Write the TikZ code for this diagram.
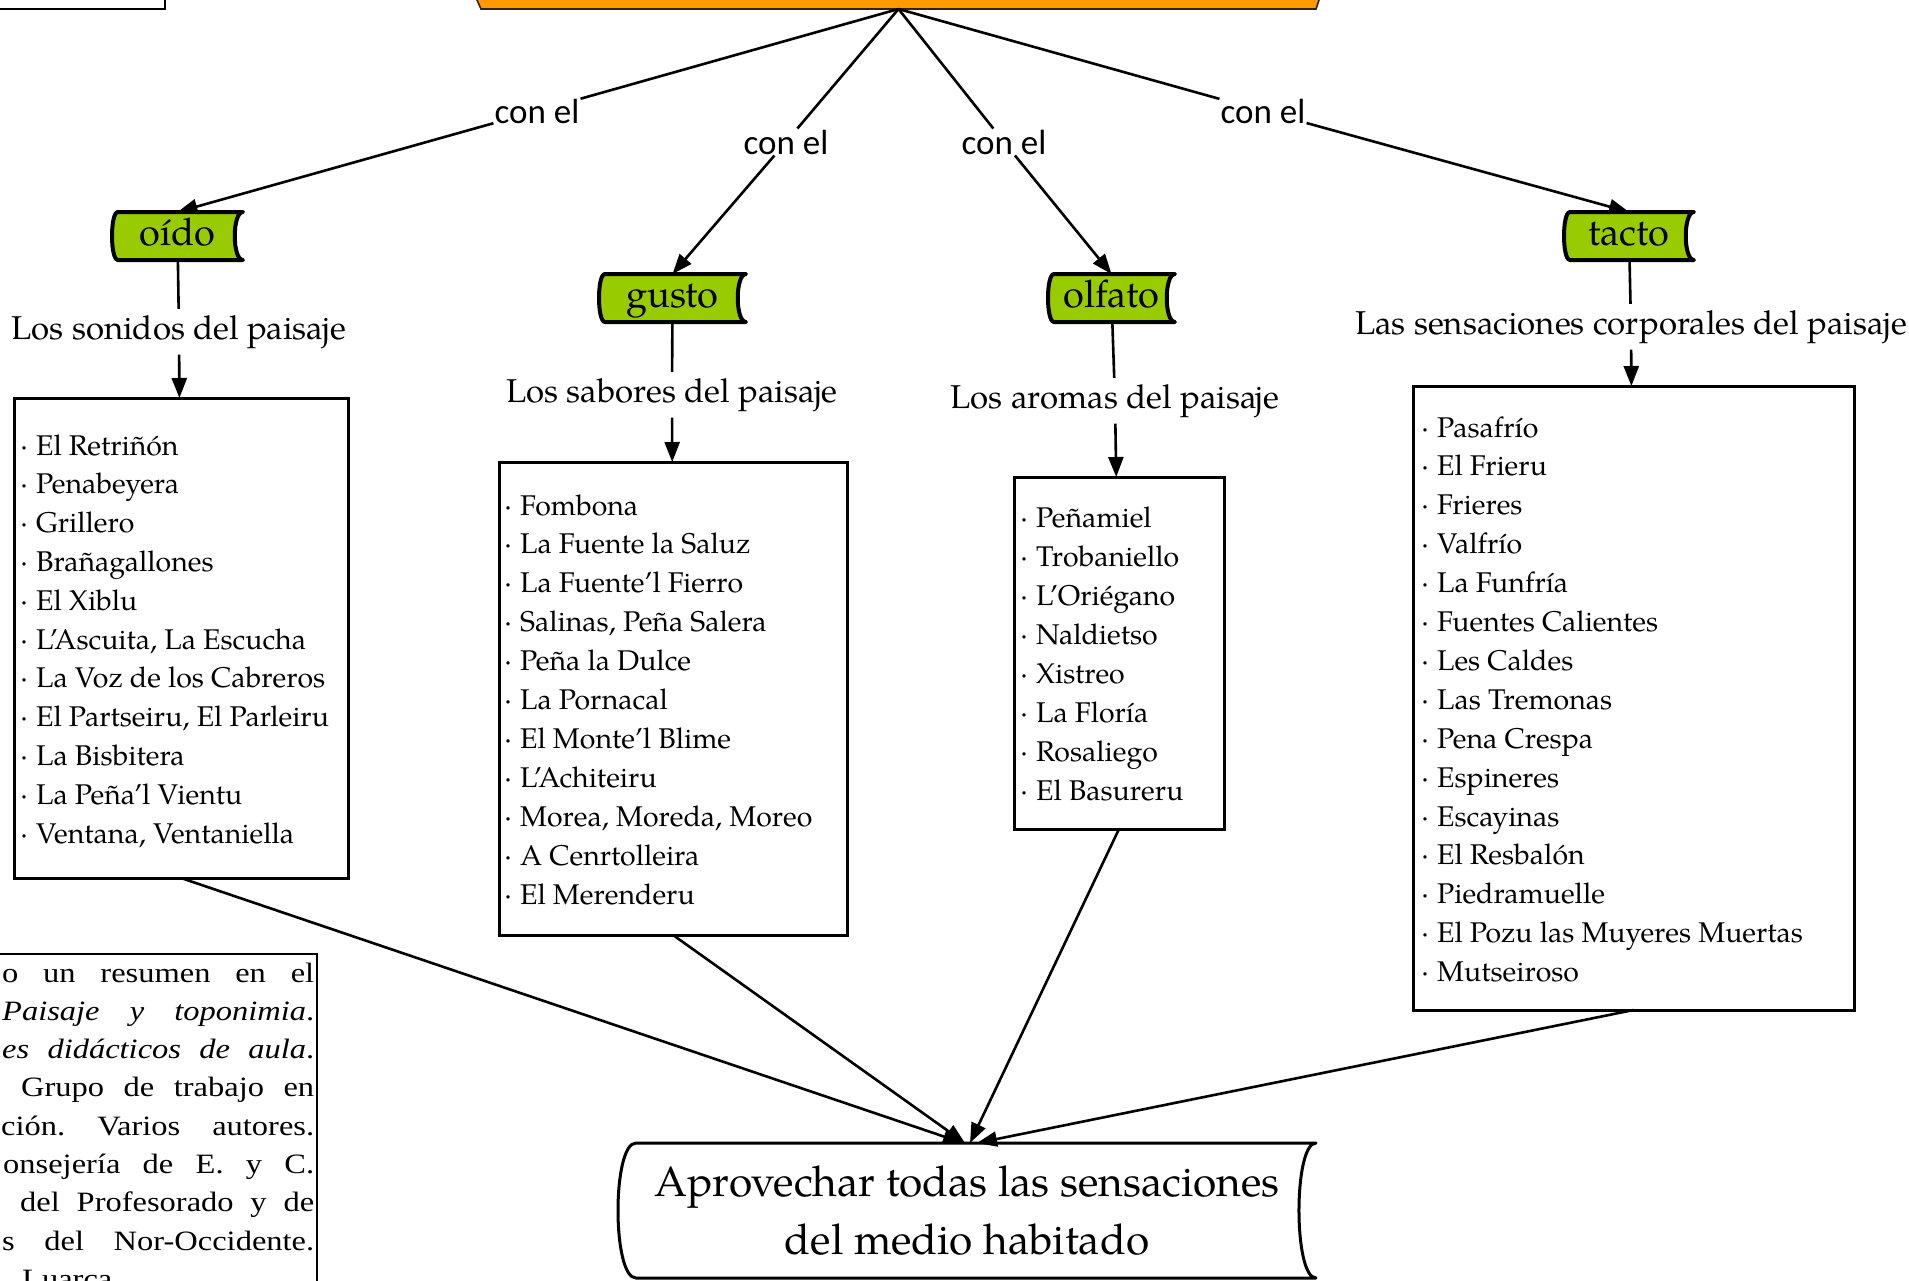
\documentclass[tikz,border=0pt]{standalone}
\usepackage{fontspec}
\newfontfamily\calib{Carlito}
\newfontfamily\timesf{Liberation Serif}[FakeStretch=1.16]
\newfontfamily\goudy{texgyrepagella-regular.otf}
\usetikzlibrary{arrows.meta,backgrounds}
\definecolor{orangeT}{HTML}{FF9900}
\definecolor{greenS}{HTML}{99CC00}
\tikzset{
  conn/.style={line width=2.6pt},
  arr/.style={conn, -{Triangle[length=20pt,width=15pt]}},
  conlab/.style={font=\calib\fontsize{35}{40}\selectfont, inner sep=1pt},
  sense/.style={minimum width=131pt, minimum height=48pt, inner sep=0pt, outer sep=0pt,
    font=\goudy\fontsize{38}{44}\selectfont, text height=26pt, text depth=7pt},
  sublab/.style={font=\goudy\fontsize{33}{40}\selectfont, inner xsep=2pt, inner ysep=6pt},
  listbox/.style={draw, line width=3pt, inner sep=0pt, outer sep=0pt},
  item/.style={font=\goudy\fontsize{28.5}{32}\selectfont, inner sep=0pt, anchor=base west},
  reftxt/.style={font=\timesf\frenchspacing\fontsize{28}{34}\selectfont, inner sep=0pt, anchor=base west},
}
\newcommand\sdshape[5]{%
  \draw[line width=#3, fill=#2, line join=round]
   ([xshift=0.75*#4]#1.north west) -- (#1.north east)
   .. controls ([xshift=-#5]#1.north east) and ([xshift=-#5]#1.south east) .. (#1.south east)
   -- ([xshift=0.75*#4]#1.south west)
   .. controls ([xshift=-0.25*#4]#1.south west) and ([xshift=-0.25*#4]#1.north west) .. ([xshift=0.75*#4]#1.north west) -- cycle;}
\newcommand\bul{·\hspace{0.28em}}
\begin{document}
\begin{tikzpicture}[x=1pt,y=-1pt]
\useasboundingbox (0,0) rectangle (1909,1280);

% partially visible top nodes
\node[minimum width=835pt, minimum height=60pt, inner sep=0pt, outer sep=0pt, anchor=south] (top) at (898.5,9) {};
\node[draw, fill=white, line width=2pt, minimum width=300pt, minimum height=80pt, inner sep=0pt, outer sep=0pt, anchor=south east] (tl) at (165,9) {};

% linking labels
\node[conlab] (l1) at (537,111) {con el};
\node[conlab] (l2) at (786,142) {con el};
\node[conlab] (l3) at (1004,142) {con el};
\node[conlab] (l4) at (1263,111) {con el};

% senses
\node[sense] (oido) at (177.5,236) {oído};
\node[sense, minimum width=147pt] (gusto) at (672.5,298) {gusto};
\node[sense, minimum width=127pt] (olfato) at (1111.5,298) {olfato};
\node[sense, minimum width=130pt] (tacto) at (1629,236) {tacto};

% sub labels
\node[sublab, anchor=base] (s1) at (179,339) {Los sonidos del paisaje};
\node[sublab, anchor=base] (s2) at (672,402) {Los sabores del paisaje};
\node[sublab, anchor=base] (s3) at (1115,408) {Los aromas del paisaje};
\node[sublab, anchor=base] (s4) at (1631,334) {Las sensaciones corporales del paisaje};

% list boxes
\node[listbox, minimum width=334pt, minimum height=480pt] (b1) at (181,638) {};
\node[listbox, minimum width=348pt, minimum height=473pt] (b2) at (673,698.5) {};
\node[listbox, minimum width=210pt, minimum height=352pt] (b3) at (1119,653) {};
\node[listbox, minimum width=441pt, minimum height=624pt] (b4) at (1633.5,698) {};

\foreach \nm [count=\i] in {El Retriñón, Penabeyera, Grillero, Brañagallones, El Xiblu,
  {L’Ascuita, La Escucha}, La Voz de los Cabreros, {El Partseiru, El Parleiru},
  La Bisbitera, La Peña’l Vientu, {Ventana, Ventaniella}}
  \node[item] (bA\i) at (20,{455+38.8*(\i-1)}) {\bul\nm};

\foreach \nm [count=\i] in {Fombona, La Fuente la Saluz, La Fuente’l Fierro,
  {Salinas, Peña Salera}, Peña la Dulce, La Pornacal, El Monte’l Blime, L’Achiteiru,
  {Morea, Moreda, Moreo}, A Cenrtolleira, El Merenderu}
  \node[item] (bB\i) at (504,{515+38.9*(\i-1)}) {\bul\nm};

\foreach \nm [count=\i] in {Peñamiel, Trobaniello, L’Oriégano, Naldietso, Xistreo,
  La Floría, Rosaliego, El Basureru}
  \node[item] (bC\i) at (1020,{527+39.1*(\i-1)}) {\bul\nm};

\foreach \nm [count=\i] in {Pasafrío, El Frieru, Frieres, Valfrío, La Funfría,
  Fuentes Calientes, Les Caldes, Las Tremonas, Pena Crespa, Espineres, Escayinas,
  El Resbalón, Piedramuelle, El Pozu las Muyeres Muertas, Mutseiroso}
  \node[item] (bD\i) at (1421,{437+38.9*(\i-1)}) {\bul\nm};

% final node
\node[minimum width=698pt, minimum height=135pt, inner sep=0pt, outer sep=0pt, align=center,
  font=\goudy\fontsize{42.4}{58}\selectfont] (fin) at (967,1210.5)
  {Aprovechar todas las sensaciones\\del medio habitado};

% reference text box (cut off)
\node[draw, line width=1.5pt, minimum width=400pt, minimum height=400pt, inner sep=0pt, outer sep=0pt, anchor=north east] (refbox) at (317,954) {};
\node[reftxt] (r1) at (2,982) {\makebox[312pt][s]{o un resumen en el}};
\node[reftxt] (r2) at (2,1020.3) {\makebox[312pt][s]{\textit{Paisaje y toponimia}.}};
\node[reftxt] (r3) at (2,1058.6) {\makebox[312pt][s]{\textit{es didácticos de aula}.}};
\node[reftxt] (r4) at (21,1096.9) {\makebox[293pt][s]{Grupo de trabajo en}};
\node[reftxt] (r5) at (1,1135.2) {\makebox[313pt][s]{ción. Varios autores.}};
\node[reftxt] (r6) at (3,1173.5) {\makebox[311pt][s]{onsejería de E. y C.}};
\node[reftxt] (r7) at (20,1211.8) {\makebox[294pt][s]{del Profesorado y de}};
\node[reftxt] (r8) at (2,1250.1) {\makebox[312pt][s]{s del Nor-Occidente.}};
\node[reftxt] (r9) at (22,1288.4) {Luarca};

% shapes behind
\begin{scope}[on background layer]
  \draw[line width=1.6pt, draw=black!85, fill=orangeT]
    (top.south west) -- (top.south east) -- ([xshift=20pt]top.north east)
    -- ([xshift=-27pt]top.north west) -- cycle;
  \sdshape{oido}{greenS}{4pt}{8pt}{11pt}
  \sdshape{gusto}{greenS}{4pt}{8pt}{11pt}
  \sdshape{olfato}{greenS}{4pt}{8pt}{11pt}
  \sdshape{tacto}{greenS}{4pt}{8pt}{11pt}
  \sdshape{fin}{white}{3pt}{24pt}{22.7pt}
\end{scope}

% connectors
\draw[conn] (top.south) -- (l1);
\draw[conn] (top.south) -- (l2);
\draw[conn] (top.south) -- (l3);
\draw[conn] (top.south) -- (l4);
\draw[arr] (l1) -- (oido.north);
\draw[arr] (l2) -- (gusto.north);
\draw[arr] (l3) -- (olfato.north);
\draw[arr] (l4) -- (tacto.north);

\draw[conn] (oido) -- (s1);
\draw[conn] (gusto) -- (s2);
\draw[conn] (olfato) -- (s3);
\draw[conn] (tacto) -- (s4);
\draw[arr] (s1) -- (b1);
\draw[arr] (s2) -- (b2);
\draw[arr] (s3) -- (b3);
\draw[arr] (s4) -- (b4);

\draw[arr] (b1.south) -- ([xshift=-4pt]fin.north);
\draw[arr] (b2.south) -- ([xshift=-2pt]fin.north);
\draw[arr] (b3.south) -- ([xshift=3pt]fin.north);
\draw[arr] (b4.south) -- ([xshift=10pt]fin.north);
\end{tikzpicture}
\end{document}
